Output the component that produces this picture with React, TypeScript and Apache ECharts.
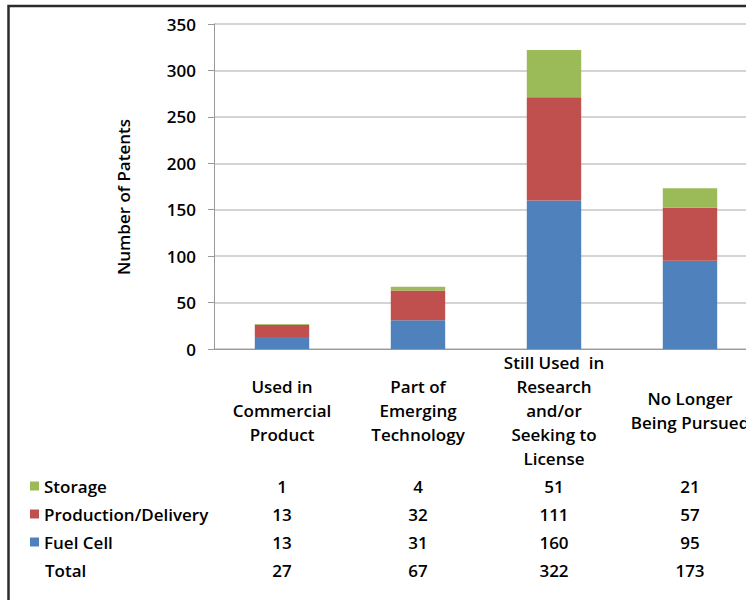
import React, { useEffect, useRef } from "react";
import * as echarts from "echarts";

const categories = [
  "Used in\nCommercial\nProduct",
  "Part of\nEmerging\nTechnology",
  "Still Used  in\nResearch\nand/or\nSeeking to\nLicense",
  "No Longer\nBeing Pursued",
];
const seriesNames = ["Fuel Cell", "Production/Delivery", "Storage"];
const fuelCell = [13, 31, 160, 95];
const production = [13, 32, 111, 57];
const storage = [1, 4, 51, 21];
const yTicks = { min: 0, max: 350, interval: 50 };
const colors = ["#4F81BD", "#C0504D", "#9BBB59"];

const FONT = "'Open Sans', 'Noto Sans', sans-serif";
const FS = 17;
const FW = 600;

export default function App() {
  const ref = useRef<HTMLDivElement>(null);
  useEffect(() => {
    document.body.style.margin = "0";
    const chart = echarts.init(ref.current!, null, { renderer: "svg" });
    const totals = fuelCell.map((v, i) => v + production[i] + storage[i]);
    const rows = [storage, production, fuelCell, totals];
    const rowMargins = [137, 165, 193, 221];
    const tableAxes = rows.map((r, k) => ({
      type: "category",
      gridIndex: 0,
      position: "bottom",
      data: r.map(String),
      boundaryGap: true,
      axisLine: { show: false },
      axisTick: { show: false },
      splitLine: { show: false },
      axisLabel: {
        interval: 0,
        margin: rowMargins[k],
        verticalAlign: "middle",
        color: "#000",
        fontSize: FS,
        fontWeight: FW,
        fontFamily: FONT,
      },
    }));
    const data = [fuelCell, production, storage];
    chart.setOption({
      animation: false,
      textStyle: { fontFamily: FONT },
      grid: {
        left: 214,
        top: 24,
        width: 544,
        height: 325,
        outerBoundsMode: "none",
        containLabel: false,
      },
      legend: {
        orient: "vertical",
        left: 30,
        top: 476,
        padding: 0,
        itemGap: 8,
        itemWidth: 9,
        itemHeight: 9,
        icon: "rect",
        selectedMode: false,
        data: ["Storage", "Production/Delivery", "Fuel Cell"],
        textStyle: { fontSize: FS, fontWeight: FW, lineHeight: 20, color: "#000", fontFamily: FONT },
      },
      xAxis: [
        {
          type: "category",
          data: categories,
          boundaryGap: true,
          axisLine: { lineStyle: { color: "#999", width: 1 } },
          axisTick: { show: false },
          axisLabel: {
            interval: 0,
            margin: 61,
            verticalAlign: "middle",
            lineHeight: 24,
            color: "#000",
            fontSize: FS,
            fontWeight: FW,
            fontFamily: FONT,
          },
        },
        ...tableAxes,
      ],
      yAxis: {
        type: "value",
        min: yTicks.min,
        max: yTicks.max,
        interval: yTicks.interval,
        axisLine: { show: true, lineStyle: { color: "#999", width: 1 } },
        axisTick: { show: true, length: 6, lineStyle: { color: "#999" } },
        splitLine: { lineStyle: { color: "#c6c6c6", width: 1.5 } },
        axisLabel: { margin: 18, color: "#000", fontSize: FS, fontWeight: FW, fontFamily: FONT },
      },
      graphic: [
        {
          type: "rect",
          shape: { x: 8.5, y: 6, width: 900, height: 800 },
          style: { fill: "none", stroke: "#2b2b2b", lineWidth: 2.5 },
          silent: true,
        },
        {
          type: "text",
          x: 123,
          y: 197,
          rotation: Math.PI / 2,
          style: {
            text: "Number of Patents",
            align: "center",
            verticalAlign: "middle",
            fontSize: FS,
            fontWeight: FW,
            fontFamily: FONT,
            fill: "#000",
          },
        },
        {
          type: "text",
          x: 45,
          y: 570,
          style: {
            text: "Total",
            align: "left",
            verticalAlign: "middle",
            fontSize: FS,
            fontWeight: FW,
            fontFamily: FONT,
            fill: "#000",
          },
        },
      ],
      series: seriesNames.map((name, i) => ({
        name,
        type: "bar",
        stack: "total",
        barWidth: "40%",
        data: data[i],
        itemStyle: { color: colors[i] },
      })),
    });
    return () => chart.dispose();
  }, []);
  return (
    <div
      ref={ref}
      style={{ position: "absolute", left: 0, top: 0, width: 746, height: 600 }}
    />
  );
}
